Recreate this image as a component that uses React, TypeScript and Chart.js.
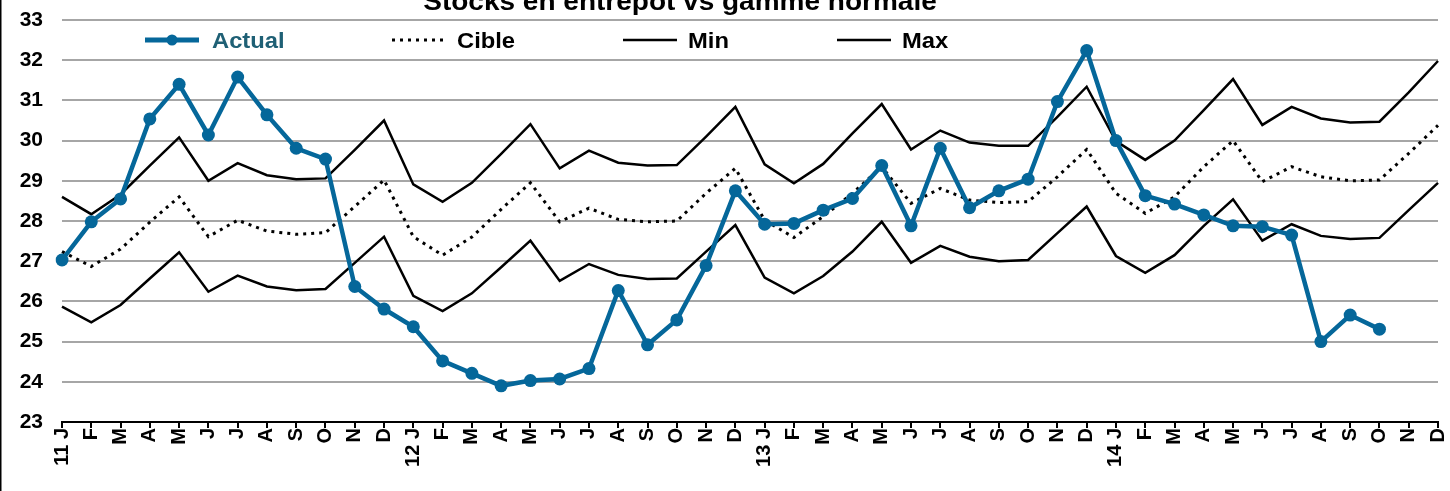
import React, { useEffect, useRef } from "react";
import { Chart, registerables } from "chart.js";

Chart.register(...registerables);

const TITLE = "Stocks en entrepôt vs gamme normale";
const years = ["11", "12", "13", "14"];
const months = ["J", "F", "M", "A", "M", "J", "J", "A", "S", "O", "N", "D"];
const xLabels = years.flatMap((y) => months.map((m, i) => (i === 0 ? `${y} ${m}` : m)));

const actual = [
  27.03, 27.98, 28.55, 30.54, 31.4, 30.14, 31.58, 30.64, 29.81, 29.54,
  26.37, 25.81, 25.37, 24.52, 24.21, 23.9, 24.03, 24.07, 24.33, 26.27,
  24.92, 25.54, 26.89, 28.75, 27.92, 27.94, 28.27, 28.56, 29.38, 27.88,
  29.81, 28.33, 28.75, 29.04, 30.97, 32.24, 30.0, 28.63, 28.42, 28.15,
  27.88, 27.86, 27.65, 25.0, 25.66, 25.31, null, null,
];
const cible = [
  27.24, 26.87, 27.3, 27.97, 28.6, 27.61, 28.02, 27.75, 27.67, 27.71,
  28.36, 29.02, 27.61, 27.15, 27.6, 28.29, 28.95, 27.98, 28.32, 28.04,
  27.98, 28.0, 28.69, 29.31, 28.02, 27.59, 28.11, 28.69, 29.35, 28.44,
  28.81, 28.52, 28.46, 28.48, 29.1, 29.78, 28.69, 28.19, 28.6, 29.35,
  30.0, 28.98, 29.35, 29.1, 29.0, 29.02, 29.68, 30.38,
];
const minV = [
  25.87, 25.48, 25.91, 26.57, 27.22, 26.24, 26.64, 26.37, 26.28, 26.31,
  26.96, 27.61, 26.14, 25.76, 26.2, 26.85, 27.51, 26.51, 26.93, 26.66,
  26.56, 26.57, 27.24, 27.9, 26.59, 26.2, 26.63, 27.24, 27.98, 26.96,
  27.38, 27.11, 27.0, 27.03, 27.7, 28.36, 27.13, 26.71, 27.15, 27.88,
  28.54, 27.51, 27.92, 27.63, 27.55, 27.58, 28.27, 28.95,
];
const maxV = [
  28.6, 28.17, 28.66, 29.38, 30.08, 29.0, 29.44, 29.14, 29.04, 29.06,
  29.77, 30.5, 28.91, 28.48, 28.95, 29.67, 30.41, 29.31, 29.75, 29.45,
  29.38, 29.39, 30.1, 30.84, 29.41, 28.94, 29.42, 30.18, 30.91, 29.78,
  30.25, 29.95, 29.87, 29.87, 30.59, 31.34, 29.99, 29.52, 30.0, 30.76,
  31.53, 30.39, 30.84, 30.55, 30.45, 30.47, 31.2, 31.98,
];

const BLUE = "#05679A";
const FONT = "'Liberation Sans', Arial, sans-serif";

const overlayPlugin = {
  id: "overlay",
  afterDraw(chart: any) {
    const ctx = chart.ctx as CanvasRenderingContext2D;
    ctx.save();
    ctx.fillStyle = "#000";
    ctx.fillRect(0, 0, 1.5, chart.height);

    // Title (cut off at the top like the reference)
    ctx.save();
    ctx.translate(680, 10);
    ctx.scale(1.12, 1);
    ctx.font = `bold 25px ${FONT}`;
    ctx.textAlign = "center";
    ctx.textBaseline = "alphabetic";
    ctx.fillStyle = "#000";
    ctx.fillText(TITLE, 0, 0);
    ctx.restore();

    // Legend
    const symX = [145, 392, 623, 837];
    const textX = [212, 457, 688, 902];
    const y = 40;
    chart.data.datasets.forEach((ds: any, i: number) => {
      const x0 = symX[i];
      const x1 = x0 + (i === 1 ? 52 : 54);
      ctx.save();
      ctx.strokeStyle = ds.borderColor;
      ctx.lineWidth = i === 0 ? 5 : i === 1 ? 3 : 2.5;
      ctx.setLineDash(ds.borderDash || []);
      ctx.beginPath();
      ctx.moveTo(x0, y);
      ctx.lineTo(x1, y);
      ctx.stroke();
      if (i === 0) {
        ctx.setLineDash([]);
        ctx.fillStyle = ds.borderColor;
        ctx.beginPath();
        ctx.arc((x0 + x1) / 2, y, 5.5, 0, Math.PI * 2);
        ctx.fill();
      }
      ctx.translate(textX[i], 47.5);
      ctx.scale(1.08, 1);
      ctx.font = `bold 22px ${FONT}`;
      ctx.textAlign = "left";
      ctx.textBaseline = "alphabetic";
      ctx.fillStyle = i === 0 ? "#1F6075" : "#000";
      ctx.fillText(ds.label, 0, 0);
      ctx.restore();
    });
    ctx.restore();
  },
};

export default function App() {
  const ref = useRef<HTMLCanvasElement | null>(null);

  useEffect(() => {
    document.body.style.margin = "0";
    if (!ref.current) return;
    const chart = new Chart(ref.current, {
      type: "line",
      data: {
        labels: xLabels,
        datasets: [
          {
            label: "Actual",
            data: actual,
            borderColor: BLUE,
            backgroundColor: BLUE,
            borderWidth: 4.5,
            pointRadius: 6.5,
            pointHoverRadius: 6.5,
            pointBackgroundColor: BLUE,
            pointBorderWidth: 0,
            tension: 0,
            order: 0,
            spanGaps: false,
          },
          {
            label: "Cible",
            data: cible,
            borderColor: "#000",
            borderWidth: 3,
            borderDash: [3, 5],
            pointRadius: 0,
            tension: 0,
            order: 1,
          },
          {
            label: "Min",
            data: minV,
            borderColor: "#000",
            borderWidth: 2.5,
            pointRadius: 0,
            tension: 0,
            order: 2,
          },
          {
            label: "Max",
            data: maxV,
            borderColor: "#000",
            borderWidth: 2.5,
            pointRadius: 0,
            tension: 0,
            order: 3,
          },
        ],
      },
      options: {
        responsive: false,
        animation: false,
        devicePixelRatio: 1,
        layout: { padding: { left: 0, right: 12, top: 20, bottom: 0 } },
        plugins: {
          legend: { display: false },
          title: { display: false },
          tooltip: { enabled: false },
        },
        scales: {
          x: {
            type: "category",
            offset: false,
            grid: {
              display: true,
              drawOnChartArea: false,
              drawTicks: true,
              tickLength: 6,
              color: "#000",
              lineWidth: 2,
            },
            border: { display: true, color: "#000", width: 2 },
            ticks: {
              autoSkip: false,
              maxRotation: 90,
              minRotation: 90,
              padding: 0,
              color: "#000",
              font: { family: FONT, size: 20, weight: "bold" },
            },
            afterFit: (s: any) => {
              s.height = 69;
              s.paddingLeft = 0;
              s.paddingRight = 0;
            },
          },
          y: {
            min: 23,
            max: 33,
            grid: {
              color: "#A6A6A6",
              lineWidth: 2,
              drawTicks: false,
            },
            border: { display: false },
            ticks: {
              stepSize: 1,
              padding: 19,
              color: "#000",
              font: { family: FONT, size: 21, weight: "bold" },
            },
            afterFit: (s: any) => {
              s.width = 62;
              s.paddingTop = 0;
              s.paddingBottom = 0;
            },
          },
        },
      },
      plugins: [overlayPlugin],
    });
    return () => chart.destroy();
  }, []);

  return (
    <div style={{ width: 1450, height: 491, position: "relative", background: "#fff" }}>
      <canvas ref={ref} width={1450} height={491} style={{ display: "block" }} />
    </div>
  );
}
